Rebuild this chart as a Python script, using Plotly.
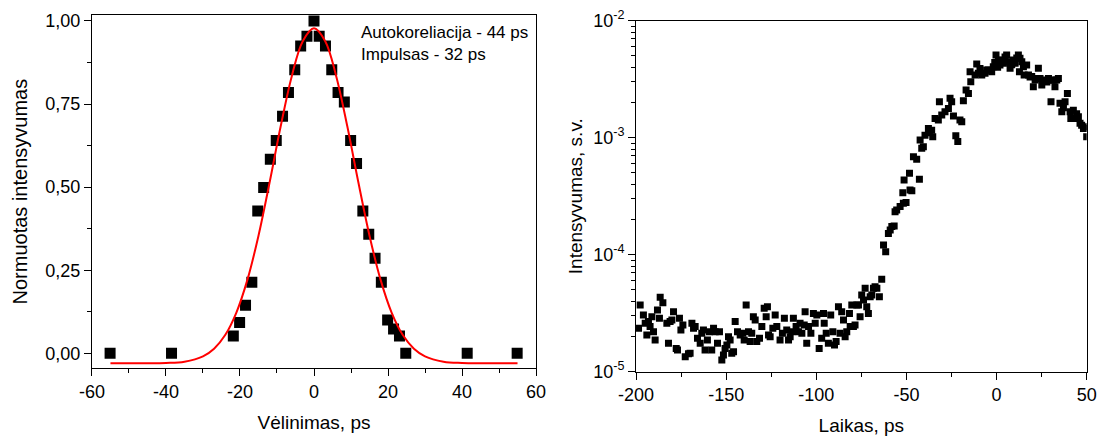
import plotly.graph_objects as go

# ---------------- data: left panel (autocorrelation) ----------------
delay_ps = [-55.1, -38.5, -21.8, -20.1, -18.5, -16.8, -15.2, -13.6, -11.8, -10.2,
            -8.5, -6.9, -5.2, -3.6, -1.9, 0.0, 1.4, 3.1, 4.8, 6.5, 8.2, 9.9,
            11.5, 13.2, 14.8, 16.5, 18.2, 19.9, 21.5, 23.1, 24.8, 41.4, 54.9]
norm_intensity = [0.0, 0.0, 0.052, 0.093, 0.145, 0.214, 0.428, 0.499, 0.584, 0.640,
                  0.713, 0.785, 0.853, 0.925, 0.954, 1.0, 0.954, 0.925, 0.853, 0.785,
                  0.756, 0.640, 0.571, 0.428, 0.358, 0.286, 0.214, 0.100, 0.073, 0.052,
                  0.0, 0.0, 0.0]

fit_delay_ps = [-55, -45, -40, -35, -30, -27, -24, -21, -18, -15, -12, -9, -6, -3, 0,
                3, 6, 9, 12, 15, 18, 21, 24, 27, 30, 35, 40, 45, 55]
fit_intensity = [-0.030, -0.030, -0.029, -0.025, -0.009, 0.014, 0.055, 0.122, 0.221,
                 0.354, 0.514, 0.683, 0.834, 0.940, 0.978, 0.940, 0.834, 0.683, 0.514,
                 0.354, 0.221, 0.122, 0.055, 0.014, -0.009, -0.025, -0.029, -0.030, -0.030]

left_xticks = [-60, -40, -20, 0, 20, 40, 60]
left_xtick_text = ["-60", "-40", "-20", "0", "20", "40", "60"]
left_yticks = [0.0, 0.25, 0.5, 0.75, 1.0]
left_ytick_text = ["0,00", "0,25", "0,50", "0,75", "1,00"]

# ---------------- data: right panel (time trace) ----------------
time_ps = [
    -198.6, -197.7, -195.9, -194.9, -194.0, -193.1, -192.2, -191.2, -190.3, -189.4,
    -188.1, -187.0, -186.6, -185.1, -182.9, -182.0, -181.1, -180.1, -179.2, -177.7,
    -177.0, -175.9, -175.1, -174.0, -172.7, -170.9, -170.0, -169.0, -168.1, -167.2,
    -165.9, -164.4, -163.5, -162.6, -161.7, -160.4, -159.3, -158.0, -157.0, -156.1,
    -154.8, -153.7, -152.4, -151.5, -150.6, -149.6, -148.7, -147.8, -146.9, -145.9,
    -145.0, -143.7, -142.2, -140.8, -140.0, -138.9, -137.6, -136.7, -135.8, -134.9,
    -133.9, -133.0, -131.5, -130.2, -128.9, -127.8, -127.1, -126.5, -125.6, -124.1,
    -122.8, -121.9, -120.1, -118.8, -117.7, -116.4, -115.4, -114.5, -113.6, -112.7,
    -111.2, -109.9, -109.0, -108.0, -106.7, -106.2, -105.3, -104.3, -103.0, -101.6,
    -100.6, -99.7, -98.4, -97.0, -96.0, -95.6, -94.5, -93.3, -92.0, -90.8,
    -89.9, -89.0, -87.7, -86.8, -85.9, -84.9, -84.0, -83.1, -81.6, -81.2,
    -80.3, -79.4, -78.5, -77.5, -76.6, -75.7, -74.8, -73.8, -72.9, -72.0,
    -71.1, -70.1, -69.2, -68.3, -67.4, -66.4, -65.0, -63.7, -62.7, -61.5,
    -60.0, -59.0, -58.1, -56.8, -56.3, -55.4, -53.5, -52.0, -51.7, -51.3,
    -50.2, -48.3, -48.0, -47.0, -46.1, -44.3, -42.8, -42.4, -41.5, -40.6,
    -39.7, -37.8, -37.3, -36.0, -35.4, -34.1, -32.3, -31.7, -30.4, -28.6,
    -26.7, -25.8, -24.9, -23.9, -22.6, -21.5, -20.3, -19.3, -18.4, -16.9,
    -15.6, -14.7, -14.3, -11.9, -11.0, -10.1, -9.2, -8.2, -6.4, -5.5,
    -4.5, -2.7, -1.8, -1.0, -0.3, 0.6, 1.0, 1.9, 2.8, 3.8,
    4.7, 5.6, 6.6, 7.5, 8.4, 9.3, 10.3, 11.2, 12.1, 12.7,
    13.0, 14.0, 14.9, 15.3, 16.7, 17.7, 18.6, 19.5, 20.4, 21.4,
    22.3, 23.2, 24.1, 25.1, 26.9, 27.9, 28.8, 30.2, 30.6, 31.5,
    32.4, 33.4, 34.3, 35.2, 36.2, 37.1, 38.0, 39.3, 40.8, 41.2,
    42.6, 43.5, 44.4, 45.4, 46.3, 47.2, 48.2, 49.1, 50.0]
intensity_sv = [
    2.35e-5, 3.72e-5, 3.05e-5, 2.59e-5, 2.06e-5, 2.68e-5, 2.43e-5, 2.95e-5, 2.20e-5, 1.87e-5,
    3.37e-5, 2.86e-5, 4.32e-5, 3.89e-5, 2.59e-5, 1.75e-5, 2.68e-5, 2.77e-5, 3.26e-5, 1.58e-5,
    1.53e-5, 2.86e-5, 2.27e-5, 2.51e-5, 1.34e-5, 1.42e-5, 1.44e-5, 2.59e-5, 2.35e-5, 2.43e-5,
    1.93e-5, 1.75e-5, 2.13e-5, 2.27e-5, 1.53e-5, 1.87e-5, 2.20e-5, 1.53e-5, 2.35e-5, 2.20e-5,
    1.75e-5, 2.20e-5, 1.26e-5, 1.39e-5, 1.58e-5, 1.69e-5, 1.99e-5, 1.87e-5, 1.44e-5, 1.48e-5,
    2.68e-5, 2.20e-5, 2.06e-5, 2.13e-5, 1.87e-5, 3.72e-5, 2.20e-5, 1.81e-5, 2.13e-5, 2.95e-5,
    2.77e-5, 1.81e-5, 1.93e-5, 2.43e-5, 3.48e-5, 2.95e-5, 3.59e-5, 2.06e-5, 1.99e-5, 2.35e-5,
    3.05e-5, 2.43e-5, 1.87e-5, 2.13e-5, 2.86e-5, 2.27e-5, 1.87e-5, 1.99e-5, 2.20e-5, 2.86e-5,
    2.43e-5, 2.20e-5, 2.59e-5, 2.13e-5, 2.51e-5, 3.26e-5, 1.75e-5, 2.43e-5, 2.13e-5, 3.15e-5,
    2.59e-5, 3.05e-5, 1.58e-5, 1.93e-5, 3.15e-5, 2.59e-5, 2.13e-5, 1.75e-5, 3.05e-5, 2.20e-5,
    1.69e-5, 1.81e-5, 3.59e-5, 2.13e-5, 3.26e-5, 2.77e-5, 1.99e-5, 2.20e-5, 3.15e-5, 2.43e-5,
    3.72e-5, 2.43e-5, 2.51e-5, 3.72e-5, 3.72e-5, 2.95e-5, 4.53e-5, 4.10e-5, 5.16e-5, 3.59e-5,
    3.15e-5, 4.38e-5, 4.53e-5, 5.16e-5, 5.33e-5, 5.16e-5, 4.38e-5, 6.16e-5, 1.21e-4, 1.06e-4,
    1.52e-4, 1.63e-4, 1.74e-4, 1.76e-4, 2.33e-4, 2.41e-4, 2.58e-4, 3.39e-4, 2.75e-4, 4.35e-4,
    2.79e-4, 4.96e-4, 3.57e-4, 3.52e-4, 6.89e-4, 6.53e-4, 4.41e-4, 9.57e-4, 8.11e-4, 8.39e-4,
    1.05e-3, 1.20e-3, 1.10e-3, 1.16e-3, 1.02e-3, 1.46e-3, 1.42e-3, 2.03e-3, 1.56e-3, 1.67e-3,
    1.78e-3, 2.17e-3, 2.03e-3, 1.53e-3, 1.04e-3, 9.30e-4, 1.42e-3, 1.37e-3, 2.07e-3, 2.56e-3,
    2.39e-3, 3.67e-3, 3.01e-3, 3.43e-3, 4.27e-3, 3.55e-3, 3.90e-3, 3.43e-3, 3.55e-3, 3.80e-3,
    3.79e-3, 3.67e-3, 4.05e-3, 4.40e-3, 5.09e-3, 4.00e-3, 4.61e-3, 4.18e-3, 4.60e-3, 4.32e-3,
    4.90e-3, 5.09e-3, 4.47e-3, 3.92e-3, 4.20e-3, 4.61e-3, 4.32e-3, 4.80e-3, 5.09e-3, 3.67e-3,
    4.77e-3, 4.47e-3, 4.05e-3, 3.43e-3, 4.18e-3, 3.43e-3, 3.30e-3, 3.33e-3, 2.73e-3, 3.11e-3,
    3.20e-3, 3.92e-3, 3.21e-3, 2.82e-3, 3.11e-3, 3.00e-3, 3.21e-3, 2.03e-3, 3.11e-3, 3.10e-3,
    2.73e-3, 3.11e-3, 3.21e-3, 1.97e-3, 1.67e-3, 1.80e-3, 2.03e-3, 2.39e-3, 1.67e-3, 1.46e-3,
    1.72e-3, 1.46e-3, 1.60e-3, 1.51e-3, 1.33e-3, 1.28e-3, 1.20e-3, 1.24e-3, 1.02e-3]

right_xticks = [-200, -150, -100, -50, 0, 50]
right_xtick_text = ["-200", "-150", "-100", "-50", "0", "50"]
right_yticks = [1e-5, 1e-4, 1e-3, 1e-2]
right_ytick_text = ["10<sup>-5</sup>", "10<sup>-4</sup>", "10<sup>-3</sup>", "10<sup>-2</sup>"]

FONT = "Liberation Sans, Arial, sans-serif"

fig = go.Figure()

fig.add_trace(go.Scatter(
    x=delay_ps, y=norm_intensity, mode="markers",
    marker=dict(symbol="square", size=11, color="black", line=dict(width=0)),
    xaxis="x", yaxis="y", showlegend=False))
fig.add_trace(go.Scatter(
    x=fit_delay_ps, y=fit_intensity, mode="lines",
    line=dict(color="#ff0000", width=2, shape="spline", smoothing=1.0),
    xaxis="x", yaxis="y", showlegend=False))
fig.add_trace(go.Scatter(
    x=time_ps, y=intensity_sv, mode="markers",
    marker=dict(symbol="square", size=7, color="black", line=dict(width=0)),
    xaxis="x2", yaxis="y2", showlegend=False))

axis_common = dict(showline=True, linecolor="black", linewidth=1, mirror=True,
                   ticks="outside", ticklen=7, tickwidth=1, tickcolor="black",
                   showgrid=False, zeroline=False, automargin=False,
                   tickfont=dict(family=FONT, size=18, color="black"))

log_minor = [k * 10.0 ** e for e in (-5, -4, -3) for k in range(2, 10)]

fig.update_layout(
    width=1100, height=438,
    margin=dict(l=0, r=0, t=0, b=0, autoexpand=False),
    paper_bgcolor="white", plot_bgcolor="white",
    font=dict(family=FONT, color="black"),
    xaxis=dict(axis_common, domain=[0.0836, 0.4873], range=[-60, 60], anchor="y",
               tickmode="array", tickvals=left_xticks, ticktext=left_xtick_text,
               minor=dict(ticks="outside", ticklen=4, tickwidth=1, tickcolor="black",
                          tick0=0, dtick=10),
               title=dict(text="Vėlinimas, ps", font=dict(family=FONT, size=19), standoff=14)),
    yaxis=dict(axis_common, domain=[0.1591, 0.9658], range=[-0.045, 1.018], anchor="x",
               tickmode="array", tickvals=left_yticks, ticktext=left_ytick_text,
               minor=dict(ticks="outside", ticklen=4, tickwidth=1, tickcolor="black",
                          tick0=0, dtick=0.125),
               title=dict(text="Normuotas intensyvumas", font=dict(family=FONT, size=20), standoff=12)),
    xaxis2=dict(axis_common, domain=[0.5782, 0.9879], range=[-200, 50], anchor="y2",
                tickmode="array", tickvals=right_xticks, ticktext=right_xtick_text,
                minor=dict(ticks="outside", ticklen=4, tickwidth=1, tickcolor="black",
                           tick0=0, dtick=25),
                title=dict(text="Laikas, ps", font=dict(family=FONT, size=19), standoff=14)),
    yaxis2=dict(axis_common, domain=[0.1514, 0.9527], type="log", range=[-5, -2], anchor="x2",
                tickmode="array", tickvals=right_yticks, ticktext=right_ytick_text,
                minor=dict(ticks="outside", ticklen=4, tickwidth=1, tickcolor="black",
                           tickmode="array", tickvals=log_minor),
                title=dict(text="Intensyvumas, s.v.", font=dict(family=FONT, size=19), standoff=5)),
    annotations=[
        dict(text="Autokoreliacija - 44 ps", xref="paper", yref="paper",
             x=359 / 1100, y=1 - 32 / 438, xanchor="left", yanchor="middle",
             showarrow=False, font=dict(family=FONT, size=17, color="black")),
        dict(text="Impulsas - 32 ps", xref="paper", yref="paper",
             x=359 / 1100, y=1 - 54 / 438, xanchor="left", yanchor="middle",
             showarrow=False, font=dict(family=FONT, size=17, color="black")),
    ],
)

fig.write_html("out.html")
